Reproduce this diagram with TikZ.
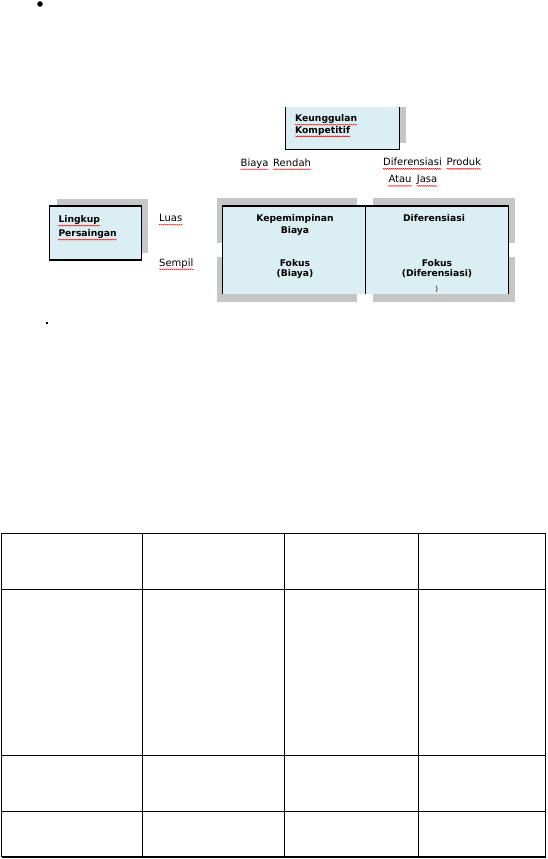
\documentclass[tikz,border=0pt]{standalone}
\usepackage{fontspec}
\setmainfont{DejaVu Sans}
\usetikzlibrary{decorations.pathmorphing}
\definecolor{boxblue}{HTML}{DAEEF3}
\definecolor{shade}{HTML}{C6C6C6}
\newcommand\squ[1]{\draw[squig] ([yshift=-0.6pt]#1.south west) -- ([yshift=-0.6pt]#1.south east);}
\begin{document}
\begin{tikzpicture}[x=1pt,y=-1pt,
  txt/.style={inner sep=0pt, anchor=base west, text depth=2.3pt, font=\fontsize{10}{11}\selectfont},
  btxt/.style={inner sep=0pt, anchor=base west, text depth=2.3pt, font=\fontsize{9.2}{10}\selectfont\bfseries},
  ctxt/.style={inner sep=0pt, anchor=base, font=\fontsize{9.2}{10}\selectfont\bfseries},
  squig/.style={draw=red, line width=0.4pt, decorate, decoration={snake, amplitude=0.5pt, segment length=2pt}},
  shadowbox/.style={fill=shade, draw=none},
  bluebox/.style={fill=boxblue},
  edge/.style={draw=black, line width=1.2pt},
  tline/.style={draw=black, line width=1.3pt}
]
\useasboundingbox[fill=white] (0,0) rectangle (547,859);

% bullet and dot
\fill (40,4) circle (2.8pt);
\fill (46,322) rectangle (47.5,323.5);

% Keunggulan Kompetitif box
\path[shadowbox] (399.3,106.7) rectangle (406.3,143);
\path[bluebox] (285.7,106.7) rectangle (399.3,149.3);
\draw[edge] (285.7,106.7) -- (285.7,149.3) -- (399.3,149.3) -- (399.3,106.7);
\node[btxt] (keu) at (295,121.6) {Keunggulan};
\node[btxt] (kom) at (295,133.3) {Kompetitif};
\squ{keu}\squ{kom}

% column labels
\node[txt] (biaya) at (240.5,166.2) {Biaya};
\node[txt] (rendah) at (273,166.2) {Rendah};
\node[txt] (dif) at (383,165.8) {Diferensiasi};
\node[txt] (produk) at (446.5,165.8) {Produk};
\node[txt] (atau) at (388.3,182.8) {Atau};
\node[txt] (jasa) at (416.7,182.8) {Jasa};
\squ{biaya}\squ{rendah}\squ{dif}\squ{produk}\squ{atau}\squ{jasa}

% Lingkup Persaingan box
\path[shadowbox] (56.7,199) rectangle (148.3,253);
\path[bluebox, edge] (49.3,206) rectangle (141.7,260);
\node[btxt] (ling) at (58.3,222.6) {Lingkup};
\node[btxt] (pers) at (58.3,236.6) {Persaingan};
\squ{ling}\squ{pers}

% row labels
\node[txt] (luas) at (159,221.6) {Luas};
\node[txt] (sempil) at (159,266.2) {Sempil};
\squ{luas}\squ{sempil}

% strategy matrix
\path[shadowbox] (216.7,198) rectangle (356.7,242.7);
\path[shadowbox] (373,198) rectangle (515,242.7);
\path[shadowbox] (216.7,256.7) rectangle (356.7,301.7);
\path[shadowbox] (373,256.7) rectangle (515,301.7);
\path[bluebox] (222.3,206) rectangle (508.3,294);
\draw[edge] (222.3,294) -- (222.3,206) -- (508.3,206) -- (508.3,294);
\draw[edge] (365.7,206) -- (365.7,294);
\node[ctxt] (kp) at (295,221.6) {Kepemimpinan};
\node[ctxt] (kpb) at (295,233.3) {Biaya};
\node[ctxt] (fb) at (295,266) {Fokus};
\node[ctxt] (fbb) at (295,276.5) {(Biaya)};
\node[ctxt] (df) at (434,221.6) {Diferensiasi};
\node[ctxt] (fd) at (437,266) {Fokus};
\node[ctxt] (fdd) at (437,276.5) {(Diferensiasi)};
\node[inner sep=0pt, anchor=base, font=\fontsize{7}{8}\selectfont] (par) at (436.7,291) {)};

% table
\foreach \y in {533.3,589.3,755.3,811.3,857} {
  \draw[tline] (1.5,\y) -- (545.7,\y);
}
\foreach \x in {1.5,142.3,284.7,418.3,545.7} {
  \draw[tline] (\x,533.3) -- (\x,857);
}
\end{tikzpicture}
\end{document}
